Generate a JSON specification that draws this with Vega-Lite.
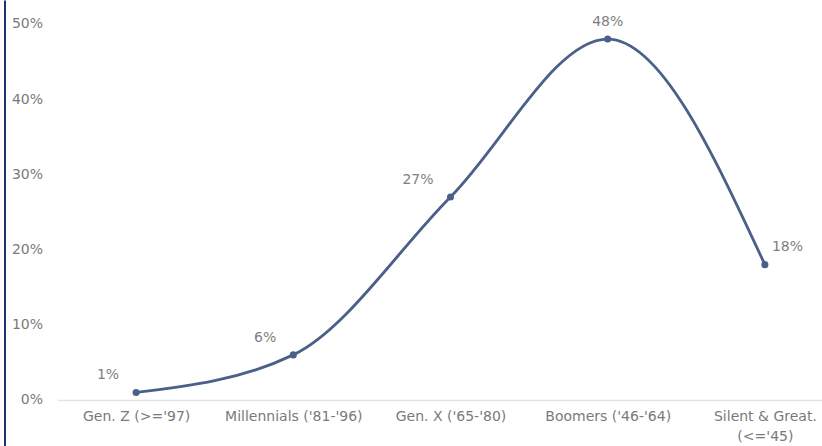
{
  "$schema": "https://vega.github.io/schema/vega-lite/v6.json",
  "width": 786,
  "height": 446,
  "autosize": {"type": "none"},
  "padding": {"left": 57.5, "top": 0, "right": 0, "bottom": 0},
  "background": "white",
  "config": {"view": {"stroke": null}, "font": "DejaVu Sans"},
  "data": {"values": [
    {"generation": "Gen. Z (>='97)", "share": 0.01},
    {"generation": "Millennials ('81-'96)", "share": 0.06},
    {"generation": "Gen. X ('65-'80)", "share": 0.27},
    {"generation": "Boomers ('46-'64)", "share": 0.48},
    {"generation": "Silent & Great. (<='45)", "share": 0.18}
  ]},
  "encoding": {
    "x": {
      "field": "generation", "type": "ordinal", "sort": null,
      "scale": {"type": "point", "padding": 0.5},
      "axis": {
        "title": null, "labelAngle": 0, "ticks": false, "grid": false,
        "domainColor": "#e3e3e3", "domainWidth": 1.5,
        "labelColor": "#7a7a7a", "labelFontSize": 14, "labelPadding": 9,
        "labelLineHeight": 20, "labelLimit": 300, "offset": -46,
        "labelExpr": "indexof(datum.label,'Silent') >= 0 ? ['Silent & Great.', \"(<='45)\"] : datum.label"
      }
    },
    "y": {
      "field": "share", "type": "quantitative",
      "scale": {"domain": [-0.06117, 0.5319], "nice": false, "zero": false},
      "axis": {
        "title": null, "orient": "left", "offset": 53, "grid": false,
        "ticks": false, "tickSize": 0,
        "domain": true, "domainColor": "#1d3370", "domainWidth": 2,
        "values": [0, 0.1, 0.2, 0.3, 0.4, 0.5], "format": ".0%",
        "labelAlign": "right", "labelPadding": -38,
        "labelColor": "#7a7a7a", "labelFontSize": 14
      }
    }
  },
  "layer": [
    {"mark": {"type": "line", "interpolate": "monotone", "color": "#4a6089", "strokeWidth": 2.8}},
    {"mark": {"type": "point", "filled": true, "opacity": 1, "size": 50, "color": "#4a6089"}},
    {
      "transform": [{"filter": {"field": "generation", "oneOf": ["Gen. Z (>='97)", "Millennials ('81-'96)", "Gen. X ('65-'80)"]}}],
      "mark": {"type": "text", "align": "right", "baseline": "middle", "dx": -17, "dy": -17, "fontSize": 14, "color": "#7f7f7f"},
      "encoding": {"text": {"field": "share", "type": "quantitative", "format": ".0%"}}
    },
    {
      "transform": [{"filter": {"field": "generation", "oneOf": ["Boomers ('46-'64)"]}}],
      "mark": {"type": "text", "align": "center", "baseline": "middle", "dy": -17, "fontSize": 14, "color": "#7f7f7f"},
      "encoding": {"text": {"field": "share", "type": "quantitative", "format": ".0%"}}
    },
    {
      "transform": [{"filter": {"field": "generation", "oneOf": ["Silent & Great. (<='45)"]}}],
      "mark": {"type": "text", "align": "left", "baseline": "middle", "dx": 7, "dy": -18, "fontSize": 14, "color": "#7f7f7f"},
      "encoding": {"text": {"field": "share", "type": "quantitative", "format": ".0%"}}
    }
  ]
}
